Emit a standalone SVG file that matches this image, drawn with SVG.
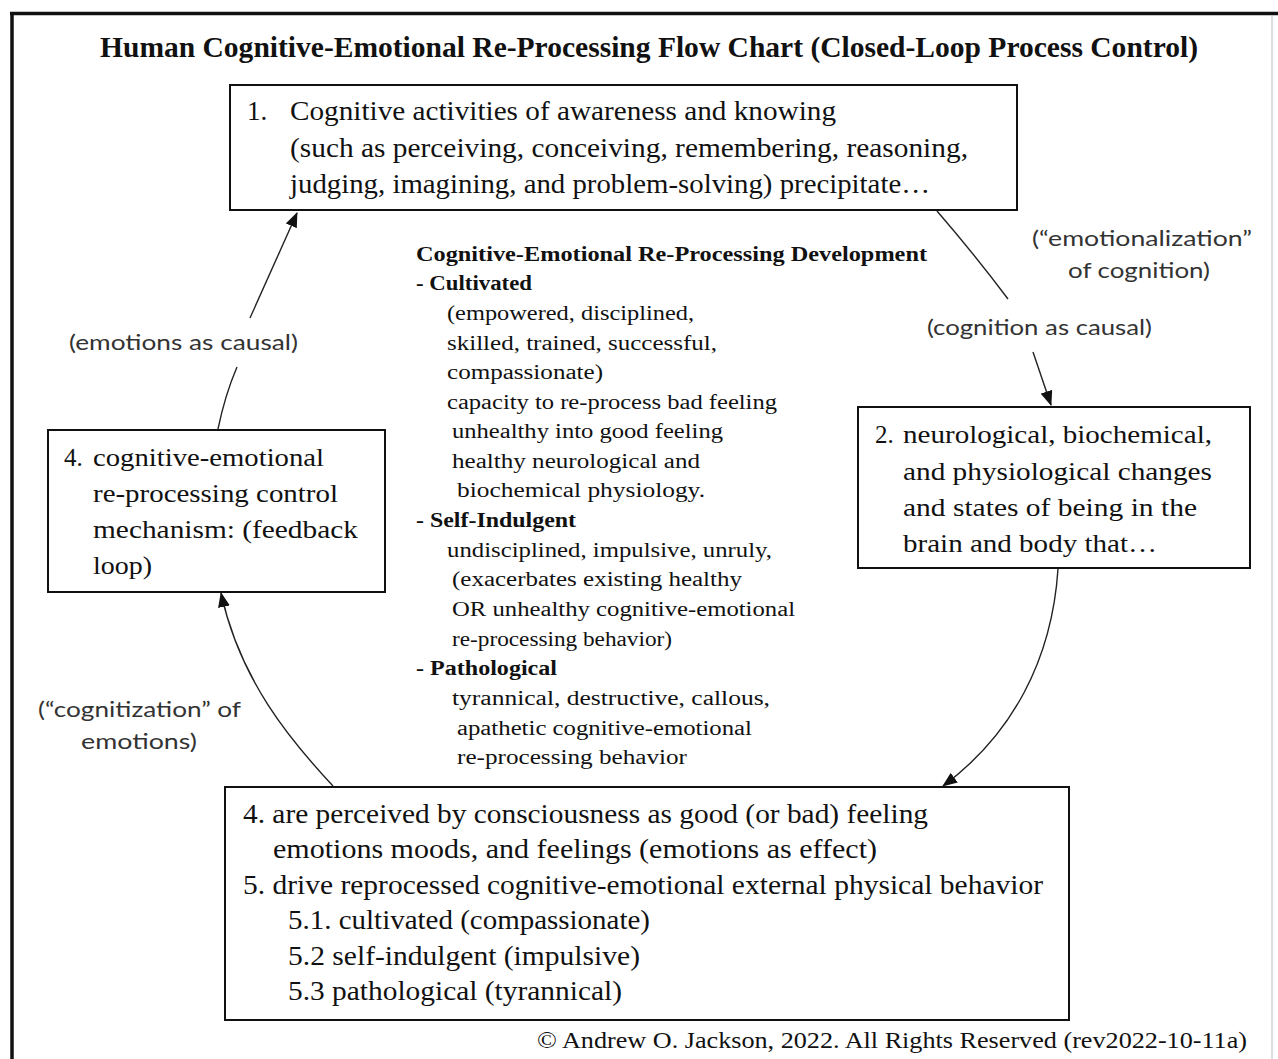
<svg xmlns="http://www.w3.org/2000/svg" width="1278" height="1059" viewBox="0 0 1278 1059">
<style>
.serif{font-family:"Liberation Serif","Times New Roman",Times,serif;fill:#111;}
.title{font-size:30px;font-weight:bold;}
.box{fill:#fff;stroke:#111;stroke-width:2;}
.bt{font-size:25px;}
.bc{font-size:27px;}
.ct{font-size:20px;}
.b{font-weight:bold;}
.sans{font-family:Lato,"Liberation Sans",sans-serif;font-size:22px;fill:#333;}
.conn{fill:none;stroke:#222;stroke-width:1.4;}
</style>
<defs>
<marker id="arr" markerUnits="userSpaceOnUse" markerWidth="16" markerHeight="12" refX="14" refY="6" orient="auto">
<path d="M0,0 L15,6 L0,12 Z" fill="#111"/>
</marker>
</defs>
<rect x="0" y="0" width="1278" height="1059" fill="#fff"/>
<g id="frame">
<line x1="10" y1="13.5" x2="1278" y2="13.5" stroke="#111" stroke-width="3.5"/>
<line x1="12" y1="12" x2="12" y2="1059" stroke="#111" stroke-width="3.5"/>
<line x1="1272" y1="15" x2="1272" y2="1059" stroke="#bbb" stroke-width="1"/>
</g>
<g id="title">
<text class="serif title" x="100" y="57" textLength="1098" lengthAdjust="spacingAndGlyphs">Human  Cognitive-Emotional  Re-Processing Flow  Chart  (Closed-Loop Process Control)</text>
</g>
<g id="connectors">
<path class="conn" d="M937,211 Q975,255 1008,299"/>
<path class="conn" d="M1033,352 L1051,405" marker-end="url(#arr)"/>
<path class="conn" d="M1058,569 C1052,660 1012,735 943,786" marker-end="url(#arr)"/>
<path class="conn" d="M333,786 C290,740 240,680 221,593" marker-end="url(#arr)"/>
<path class="conn" d="M218,429 Q225,395 237,367"/>
<path class="conn" d="M250,318 L297,213" marker-end="url(#arr)"/>
</g>
<g id="node1">
<rect class="box" x="230" y="85" width="787" height="125"/>
<text class="serif bc" x="247" y="120">1.</text>
<text class="serif bc" x="290" y="120" textLength="546" lengthAdjust="spacingAndGlyphs">Cognitive  activities  of  awareness  and  knowing</text>
<text class="serif bc" x="290" y="157" textLength="678" lengthAdjust="spacingAndGlyphs">(such  as perceiving,  conceiving,  remembering,  reasoning,</text>
<text class="serif bc" x="290" y="193" textLength="640" lengthAdjust="spacingAndGlyphs">judging,  imagining,  and problem-solving)  precipitate…</text>
</g>
<g id="node2">
<rect class="box" x="858" y="407" width="392" height="161"/>
<text class="serif bt" x="875" y="443">2.</text>
<text class="serif bt" x="903" y="443" textLength="309" lengthAdjust="spacingAndGlyphs">neurological,  biochemical,</text>
<text class="serif bt" x="903" y="480" textLength="309" lengthAdjust="spacingAndGlyphs">and physiological  changes</text>
<text class="serif bt" x="903" y="516" textLength="294" lengthAdjust="spacingAndGlyphs">and states  of being  in  the</text>
<text class="serif bt" x="903" y="552" textLength="254" lengthAdjust="spacingAndGlyphs">brain  and body that…</text>
</g>
<g id="node4">
<rect class="box" x="48" y="430" width="337" height="162"/>
<text class="serif bt" x="64" y="466">4.</text>
<text class="serif bt" x="93" y="466" textLength="231" lengthAdjust="spacingAndGlyphs">cognitive-emotional</text>
<text class="serif bt" x="93" y="502" textLength="245" lengthAdjust="spacingAndGlyphs">re-processing  control</text>
<text class="serif bt" x="93" y="538" textLength="265" lengthAdjust="spacingAndGlyphs">mechanism:  (feedback</text>
<text class="serif bt" x="93" y="574" textLength="59" lengthAdjust="spacingAndGlyphs">loop)</text>
</g>
<g id="node45">
<rect class="box" x="225" y="787" width="844" height="233"/>
<text class="serif bc" x="243" y="823" textLength="685" lengthAdjust="spacingAndGlyphs">4. are perceived  by consciousness  as good (or bad) feeling</text>
<text class="serif bc" x="273" y="858" textLength="604" lengthAdjust="spacingAndGlyphs">emotions  moods, and feelings  (emotions as effect)</text>
<text class="serif bc" x="243" y="894" textLength="800" lengthAdjust="spacingAndGlyphs">5. drive  reprocessed cognitive-emotional  external  physical  behavior</text>
<text class="serif bc" x="288" y="929" textLength="362" lengthAdjust="spacingAndGlyphs">5.1. cultivated  (compassionate)</text>
<text class="serif bc" x="288" y="965" textLength="352" lengthAdjust="spacingAndGlyphs">5.2  self-indulgent  (impulsive)</text>
<text class="serif bc" x="288" y="1000" textLength="334" lengthAdjust="spacingAndGlyphs">5.3  pathological  (tyrannical)</text>
</g>
<g id="development">
<text class="serif ct b" x="416" y="261" textLength="511" lengthAdjust="spacingAndGlyphs">Cognitive-Emotional  Re-Processing Development</text>
<text class="serif ct b" x="416" y="290" textLength="116" lengthAdjust="spacingAndGlyphs">- Cultivated</text>
<text class="serif ct" x="447" y="320" textLength="247" lengthAdjust="spacingAndGlyphs">(empowered,  disciplined,</text>
<text class="serif ct" x="447" y="350" textLength="270" lengthAdjust="spacingAndGlyphs">skilled, trained, successful,</text>
<text class="serif ct" x="447" y="379" textLength="156" lengthAdjust="spacingAndGlyphs">compassionate)</text>
<text class="serif ct" x="447" y="409" textLength="330" lengthAdjust="spacingAndGlyphs">capacity to re-process bad feeling</text>
<text class="serif ct" x="452" y="438" textLength="271" lengthAdjust="spacingAndGlyphs">unhealthy into good feeling</text>
<text class="serif ct" x="452" y="468" textLength="248" lengthAdjust="spacingAndGlyphs">healthy neurological and</text>
<text class="serif ct" x="457" y="497" textLength="248" lengthAdjust="spacingAndGlyphs">biochemical  physiology.</text>
<text class="serif ct b" x="416" y="527" textLength="160" lengthAdjust="spacingAndGlyphs">- Self-Indulgent</text>
<text class="serif ct" x="447" y="557" textLength="325" lengthAdjust="spacingAndGlyphs">undisciplined, impulsive,  unruly,</text>
<text class="serif ct" x="452" y="586" textLength="290" lengthAdjust="spacingAndGlyphs">(exacerbates  existing  healthy</text>
<text class="serif ct" x="452" y="616" textLength="343" lengthAdjust="spacingAndGlyphs">OR  unhealthy cognitive-emotional</text>
<text class="serif ct" x="452" y="646" textLength="220" lengthAdjust="spacingAndGlyphs">re-processing behavior)</text>
<text class="serif ct b" x="416" y="675" textLength="141" lengthAdjust="spacingAndGlyphs">- Pathological</text>
<text class="serif ct" x="452" y="705" textLength="318" lengthAdjust="spacingAndGlyphs">tyrannical,  destructive, callous,</text>
<text class="serif ct" x="457" y="735" textLength="295" lengthAdjust="spacingAndGlyphs">apathetic cognitive-emotional</text>
<text class="serif ct" x="457" y="764" textLength="230" lengthAdjust="spacingAndGlyphs">re-processing behavior</text>
</g>
<g id="labels">
<text class="sans" x="1032" y="246" textLength="220" lengthAdjust="spacingAndGlyphs">(“emotionalization”</text>
<text class="sans" x="1068" y="278" textLength="142" lengthAdjust="spacingAndGlyphs">of cognition)</text>
<text class="sans" x="927" y="335" textLength="225" lengthAdjust="spacingAndGlyphs">(cognition as causal)</text>
<text class="sans" x="69" y="350" textLength="229" lengthAdjust="spacingAndGlyphs">(emotions as causal)</text>
<text class="sans" x="38" y="717" textLength="203" lengthAdjust="spacingAndGlyphs">(“cognitization” of</text>
<text class="sans" x="81" y="749" textLength="116" lengthAdjust="spacingAndGlyphs">emotions)</text>
</g>
<g id="copyright">
<text class="serif" x="537" y="1048" font-size="23" textLength="710" lengthAdjust="spacingAndGlyphs">© Andrew O. Jackson, 2022. All Rights Reserved (rev2022-10-11a)</text>
</g>
</svg>
